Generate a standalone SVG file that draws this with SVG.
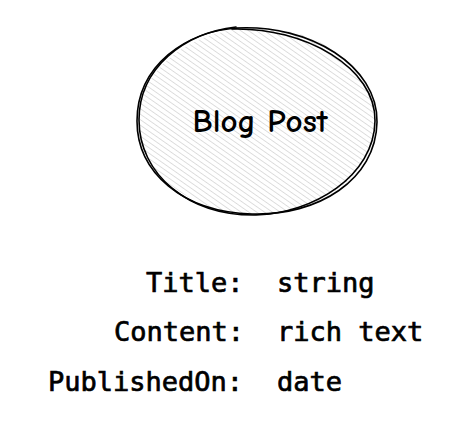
<svg xmlns="http://www.w3.org/2000/svg" width="471" height="437" viewBox="0 0 471 437">
<style>
.mono{font-family:"DejaVu Sans Mono","Liberation Mono",monospace;font-size:27px;fill:#000;stroke:#000;stroke-width:0.7}
.hand{font-family:"Comic Neue","DejaVu Sans","Liberation Sans",sans-serif;font-size:33px;font-weight:bold;fill:#000}
.edge{fill:none;stroke:#000;stroke-width:1.6;stroke-linecap:round}
</style>
<defs>
<pattern id="hatch" patternUnits="userSpaceOnUse" width="4.5" height="4.5" patternTransform="rotate(-55)">
<line x1="0" y1="0" x2="0" y2="4.5" stroke="#bdbdbd" stroke-width="1"/>
</pattern>
</defs>
<rect width="471" height="437" fill="#ffffff"/>
<g id="blog-post">
<ellipse cx="257" cy="121" rx="119" ry="93" fill="url(#hatch)"/>
<path class="edge" d="M236 28 C 310 24 378 66 377 122 C 376 180 318 216 252 214 C 182 212 137 172 137 121 C 137 66 186 30 240 28"/>
<path class="edge" d="M232 29 C 305 27 376 68 375 121 C 374 176 314 213 256 215 C 188 216 139 174 139 120 C 139 68 184 33 236 27" stroke-width="1"/>
<text class="hand" x="260" y="132" text-anchor="middle">Blog Post</text>
</g>
<g id="fields">
<text class="mono" x="146" y="292">Title:</text>
<text class="mono" x="277" y="292">string</text>
<text class="mono" x="114" y="341">Content:</text>
<text class="mono" x="277" y="341">rich text</text>
<text class="mono" x="48" y="391">PublishedOn:</text>
<text class="mono" x="277" y="391">date</text>
</g>
</svg>
